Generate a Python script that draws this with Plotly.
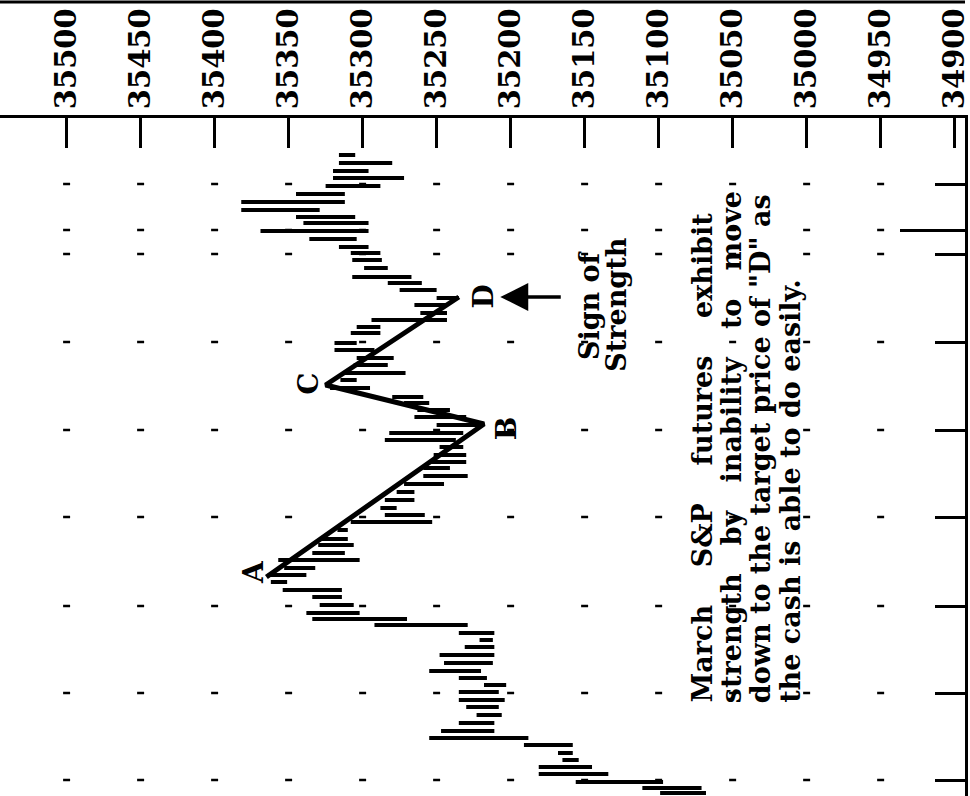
import plotly.graph_objects as go

# ---------------- data ----------------
# time units (bottom of the chart = 0, later bars higher up)
bar_time = [3, 8, 14, 22, 29, 36, 43, 51, 58, 65, 73, 81, 89, 96, 104, 111, 118, 125,
            133, 141, 149, 156, 163, 171, 177, 183, 191, 199, 206, 214, 221, 228, 236,
            243, 251, 257, 266, 274, 281, 288, 296, 304, 312, 320, 328, 334, 341, 349,
            356, 363, 371, 379, 386, 393, 399, 408, 416, 423, 431, 438, 446, 453, 463,
            469, 476, 483, 491, 498, 506, 513, 519, 528, 536, 543, 549, 557, 565, 573,
            579, 586, 594, 602, 610, 618, 625, 633, 641]
bar_low = [35068, 35071, 35097, 35134, 35145, 35154, 35158, 35158, 35188, 35211, 35211,
           35206, 35208, 35204, 35208, 35203, 35216, 35220, 35212, 35211, 35211, 35212,
           35211, 35229, 35270, 35302, 35306, 35314, 35314, 35351, 35338, 35332, 35302,
           35312, 35306, 35310, 35310, 35253, 35258, 35277, 35265, 35265, 35245, 35229,
           35241, 35230, 35230, 35232, 35237, 35232, 35221, 35230, 35241, 35255, 35259,
           35295, 35304, 35271, 35283, 35279, 35292, 35304, 35288, 35288, 35243, 35243,
           35243, 35235, 35250, 35260, 35267, 35283, 35287, 35288, 35296, 35304, 35296,
           35296, 35305, 35329, 35312, 35312, 35288, 35272, 35296, 35280, 35305]
bar_high = [35099, 35111, 35156, 35181, 35181, 35165, 35168, 35191, 35255, 35247, 35235,
            35223, 35230, 35235, 35235, 35218, 35235, 35255, 35245, 35248, 35231, 35221,
            35235, 35292, 35334, 35338, 35329, 35334, 35354, 35362, 35364, 35353, 35357,
            35334, 35330, 35328, 35317, 35308, 35285, 35288, 35285, 35277, 35272, 35259,
            35259, 35255, 35252, 35248, 35285, 35282, 35250, 35265, 35263, 35272, 35280,
            35322, 35315, 35312, 35306, 35304, 35319, 35319, 35308, 35304, 35294, 35261,
            35265, 35250, 35275, 35283, 35307, 35299, 35307, 35308, 35316, 35336, 35369,
            35340, 35345, 35382, 35382, 35345, 35325, 35320, 35320, 35316, 35316]

# A-B-C-D swing
swing_labels = ["A", "B", "C", "D"]
swing_price = [35365, 35218, 35325, 35235]
swing_time = [219, 372, 411, 499]
label_price = [35374, 35203, 35337, 35219]
label_time = [224, 368, 412, 499]

price_ticks = [35500, 35450, 35400, 35350, 35300, 35250, 35200, 35150, 35100,
               35050, 35000, 34950, 34900]
time_ticks = [16, 103, 190, 279, 366, 454, 542, 612]
time_long_tick = [566]

NB = "\u00a0"
note_lines = [
    ("March" + NB * 4 + "S&P" + NB * 4 + "futures" + NB * 4 + "exhibit"),
    ("strength" + NB * 3 + "by" + NB * 3 + "inability" + NB * 3 + "to" + NB * 3 + "move"),
    "down to the target price of \"D\" as",
    "the cash is able to do easily.",
]
note_price = [35071, 35051, 35031, 35011]   # one column per line
note_start = 91                              # lines start at this time value

sign_lines = ["Sign of", "Strength"]
sign_price = [35147, 35129]
sign_time = 491

FONT = "DejaVu Serif"

# ---------------- figure ----------------
fig = go.Figure()

# grid dots at intersections
gx, gy = [], []
for p in price_ticks[:-1]:
    for t in time_ticks + time_long_tick:
        gx.append(p)
        gy.append(t)
fig.add_trace(go.Scatter(x=gx, y=gy, mode="markers", hoverinfo="skip",
                         marker=dict(symbol="line-ew", size=5,
                                     line=dict(color="black", width=2.5))))

# price bars (horizontal, high-low)
bx, by = [], []
for t, lo, hi in zip(bar_time, bar_low, bar_high):
    bx += [lo, hi, None]
    by += [t, t, None]
fig.add_trace(go.Scatter(x=bx, y=by, mode="lines", hoverinfo="skip",
                         line=dict(color="black", width=4)))

# swing line
fig.add_trace(go.Scatter(x=swing_price, y=swing_time, mode="lines", hoverinfo="skip",
                         line=dict(color="black", width=5)))

# extra long tick on the right axis
fig.add_trace(go.Scatter(x=[None], y=[None], yaxis="y2", showlegend=False))

for lab, p, t in zip(swing_labels, label_price, label_time):
    fig.add_annotation(x=p, y=t, text=lab, showarrow=False, textangle=-90,
                       font=dict(family=FONT, size=28, color="black", weight="bold"))

# arrow pointing at D
fig.add_annotation(x=35207, y=499, text="", showarrow=True, ax=62, ay=0,
                   arrowhead=2, arrowsize=1.6, arrowwidth=3.5, arrowcolor="black")
for line, p in zip(sign_lines, sign_price):
    fig.add_annotation(x=p, y=sign_time, text=line, showarrow=False, textangle=-90,
                       font=dict(family=FONT, size=27, color="black", weight="bold"))

for line, p in zip(note_lines, note_price):
    fig.add_annotation(x=p, y=note_start, text=line, showarrow=False, textangle=-90,
                       yanchor="bottom", xanchor="center",
                       font=dict(family=FONT, size=27, color="black", weight="bold"))

# scan edge at the very top
fig.add_shape(type="line", xref="paper", yref="paper", x0=0, x1=1,
              y0=1.171, y1=1.171, line=dict(color="black", width=3))

fig.update_layout(
    width=970, height=796,
    margin=dict(l=0, r=5, t=118, b=0, pad=0, autoexpand=False),
    paper_bgcolor="white", plot_bgcolor="white",
    showlegend=False,
    xaxis=dict(range=[35545, 34893], side="top", tickvals=price_ticks,
               ticktext=[str(v) for v in price_ticks], tickangle=-90,
               automargin=False, ticklabeloverflow="allow",
               ticks="inside", ticklen=30, tickwidth=3, tickcolor="black",
               showline=True, linewidth=3, linecolor="black",
               showgrid=False, zeroline=False,
               tickfont=dict(family=FONT, size=29, color="black", weight="bold")),
    yaxis=dict(range=[0, 678], side="right", tickvals=time_ticks, automargin=False,
               showticklabels=False, ticks="inside", ticklen=30, tickwidth=3,
               tickcolor="black", showline=True, linewidth=3, linecolor="black",
               showgrid=False, zeroline=False),
    yaxis2=dict(range=[0, 678], overlaying="y", side="right", anchor="x",
                automargin=False,
                tickvals=time_long_tick, showticklabels=False, ticks="inside",
                ticklen=65, tickwidth=3, tickcolor="black", showline=False,
                showgrid=False, zeroline=False),
)

fig.write_html("out.html", config={"displayModeBar": False},
               post_script="document.body.style.margin='0px';")
